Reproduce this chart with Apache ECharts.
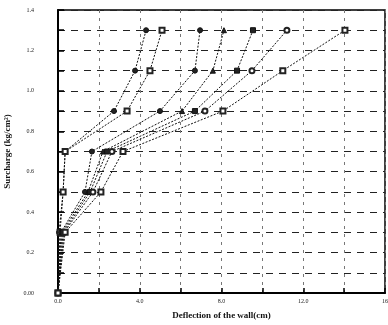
<!DOCTYPE html>
<html><head><meta charset="utf-8">
<script src="https://cdn.jsdelivr.net/npm/echarts@6/dist/echarts.min.js"></script>
<style>html,body{margin:0;padding:0;background:#fff}#c{width:388px;height:325px}</style>
</head><body><div id="c"></div>
<script>
const surcharge = [0.0, 0.3, 0.5, 0.7, 0.9, 1.1, 1.3];
const s1 = [0, 0.05, 0.25, 0.35, 2.74, 3.77, 4.31];
const s2 = [0, 0.1, 0.25, 0.35, 3.38, 4.5, 5.09];
const s3 = [0, 0.15, 1.32, 1.66, 4.99, 6.7, 6.95];
const s4 = [0, 0.2, 1.47, 2.2, 6.07, 7.58, 8.12];
const s5 = [0, 0.25, 1.57, 2.4, 6.7, 8.76, 9.54];
const s6 = [0, 0.3, 1.71, 2.64, 7.19, 9.49, 11.2];
const s7 = [0, 0.35, 2.1, 3.18, 8.07, 11.0, 14.04];
const xTickLabels = {0: '0.0', 4: '4.0', 8: '8.0', 12: '12.0', 16: '16'};
const yTickLabels = {0: '0.00', 0.2: '0.2', 0.4: '0.4', 0.6: '0.6', 0.8: '0.8', 1: '1.0', 1.2: '1.2', 1.4: '1.4'};

const seriesList = [
  {d: s1, sym: 'circle'},
  {d: s2, sym: 'emptyRect'},
  {d: s3, sym: 'circle'},
  {d: s4, sym: 'triangle'},
  {d: s5, sym: 'rect'},
  {d: s6, sym: 'emptyCircle'},
  {d: s7, sym: 'emptyRect'}
];
const font = 'Liberation Serif';
const chart = echarts.init(document.getElementById('c'));
chart.setOption({
  animation: false,
  grid: {left: 58, right: 3, top: 10, bottom: 32, show: true, borderColor: '#000', borderWidth: 1.5,
         containLabel: false, outerBoundsMode: 'none'},
  xAxis: {
    type: 'value', min: 0, max: 16, interval: 2,
    name: 'Deflection of the wall(cm)', nameLocation: 'middle', nameGap: 18,
    nameTextStyle: {fontFamily: font, fontSize: 9, fontWeight: 'bold', color: '#111'},
    axisLine: {show: true, onZero: false, lineStyle: {color: '#000', width: 2}},
    axisTick: {show: true, inside: true, length: 5, lineStyle: {color: '#000', width: 1.5}},
    axisLabel: {interval: 0, fontFamily: font, fontSize: 6, color: '#222', margin: 5,
      formatter: v => (xTickLabels[v] !== undefined ? xTickLabels[v] : '')},
    splitLine: {show: true, lineStyle: {color: '#777', type: [3, 5], width: 1}}
  },
  yAxis: {
    type: 'value', min: 0, max: 1.4, interval: 0.1,
    name: 'Surcharge (kg/cm²)', nameLocation: 'middle', nameGap: 40,
    nameTextStyle: {fontFamily: font, fontSize: 9, fontWeight: 'bold', color: '#111'},
    axisLine: {show: true, lineStyle: {color: '#000', width: 2}},
    axisTick: {show: true, inside: true, length: 6, interval: 1, lineStyle: {color: '#000', width: 1.5}},
    axisLabel: {interval: 0, fontFamily: font, fontSize: 6, color: '#222', margin: 24,
      formatter: v => { const k = Math.round(v * 10) / 10; return yTickLabels[k] !== undefined ? yTickLabels[k] : ''; }},
    splitLine: {show: true, lineStyle: {color: '#222', type: [7, 6], width: 1}}
  },
  series: seriesList.map(s => ({
    type: 'line',
    data: s.d.map((x, i) => [x, surcharge[i]]),
    symbol: s.sym, symbolSize: 5,
    lineStyle: {color: '#111', width: 1, type: [2, 1.5]},
    itemStyle: {color: '#222', borderColor: '#111', borderWidth: 1}
  }))
});
</script></body></html>
